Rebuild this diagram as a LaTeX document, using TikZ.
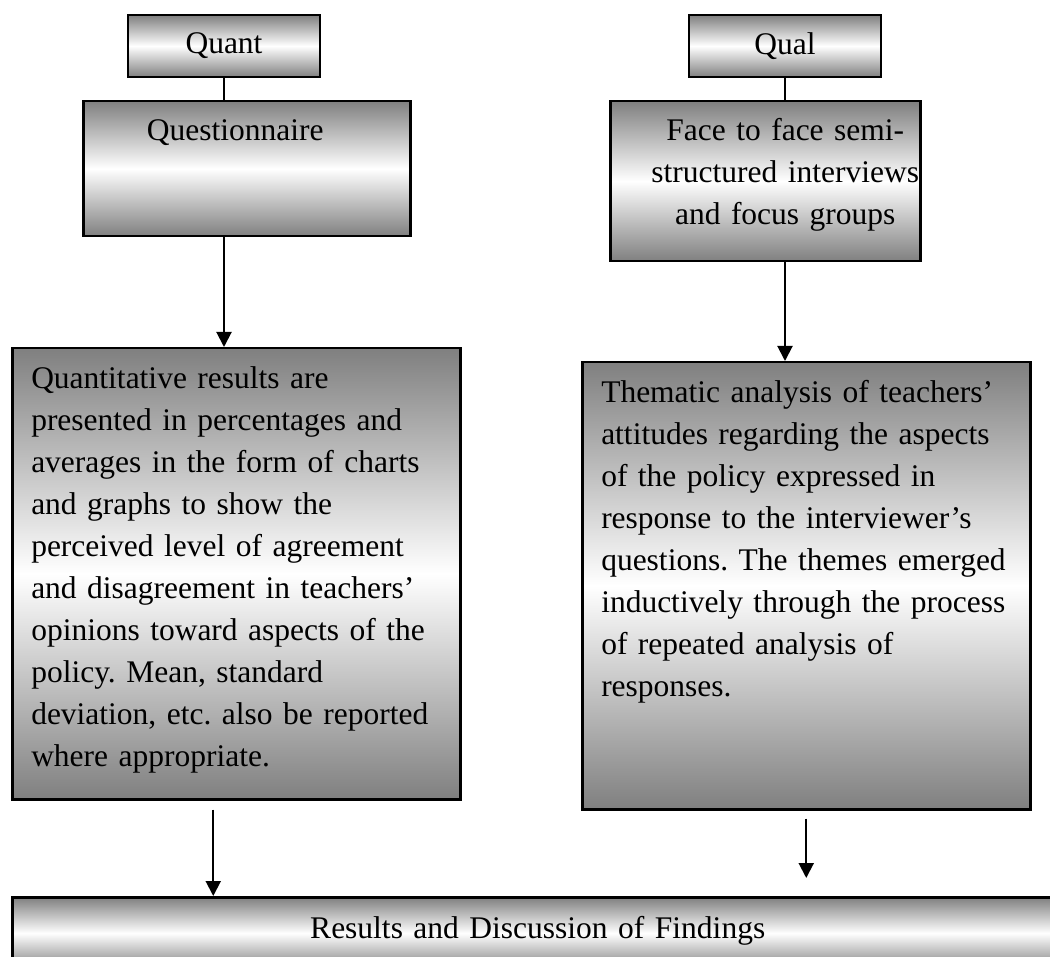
\documentclass[tikz,border=0pt]{standalone}
\usepackage{fontspec}
\setmainfont{Liberation Serif}
\usepackage{tikz}
\usetikzlibrary{arrows.meta,positioning}

\begin{document}
\begin{tikzpicture}[
  x=1pt, y=-1pt,
  font=\fontsize{31.5}{42}\selectfont\frenchspacing,
  shadebox/.style={rectangle, draw, line width=2.5pt, top color=black!50,
    bottom color=black!50, middle color=white},
  strand/.style={shadebox, line width=2pt, minimum width=192pt, minimum height=62pt},
  stage/.style={shadebox, anchor=north west, inner sep=0pt, text height=39pt},
  finding/.style={shadebox, anchor=north west, inner xsep=19pt, inner ysep=0pt,
    text width=410pt, align=left, text height=40pt},
  flow/.style={->, line width=2pt},
  >={Triangle[width=15pt,length=15pt]}
]
  \useasboundingbox (0,0) rectangle (1050,957);
  \clip (0,0) rectangle (1050,957);

  \node[strand] (quant) at (224,46) {Quant};
  \node[strand, right=367pt of quant] (qual) {Qual};

  \node[stage, align=center, text width=327pt, text depth=96pt] (questionnaire)
    at (82,100) {\hspace*{-23pt}Questionnaire};
  \node[stage, text width=310pt, text depth=121pt] (face) at (609,100)
    {\leftskip=40pt plus 1fil \rightskip=0pt plus 1fil
     \parfillskip=0pt \parindent=0pt
     Face to face semi-\par
     structured interviews\par
     and focus groups\par};

  \node[finding, text depth=411pt] (quantres) at (11,347)
    {Quantitative results are\\
     presented in percentages and\\
     averages in the form of charts\\
     and graphs to show the\\
     perceived level of agreement\\
     and disagreement in teachers’\\
     opinions toward aspects of the\\
     policy. Mean, standard\\
     deviation, etc. also be reported\\
     where appropriate.};
  \node[finding, text depth=407pt] (thematic) at (581,361)
    {Thematic analysis of teachers’\\
     attitudes regarding the aspects\\
     of the policy expressed in\\
     response to the interviewer’s\\
     questions. The themes emerged\\
     inductively through the process\\
     of repeated analysis of\\
     responses.};

  \node[stage, align=center, text width=1051pt, text height=41pt,
    text depth=31pt] (results) at (11,896) {Results and Discussion of Findings};

  \draw[line width=2pt] (quant) -- (quant |- questionnaire.north);
  \draw[line width=2pt] (qual) -- (qual |- face.north);
  \draw[flow] (questionnaire.south -| quant) -- (quantres.north -| quant);
  \draw[flow] (face.south -| qual) -- (thematic.north -| qual);
  \draw[flow, shorten <=9pt] ([xshift=-23pt]quantres.south)
    -- ([xshift=-23pt]quantres.south |- results.north);
  \draw[flow, shorten <=8pt, shorten >=18pt] (thematic.south)
    -- (thematic.south |- results.north);
\end{tikzpicture}
\end{document}
